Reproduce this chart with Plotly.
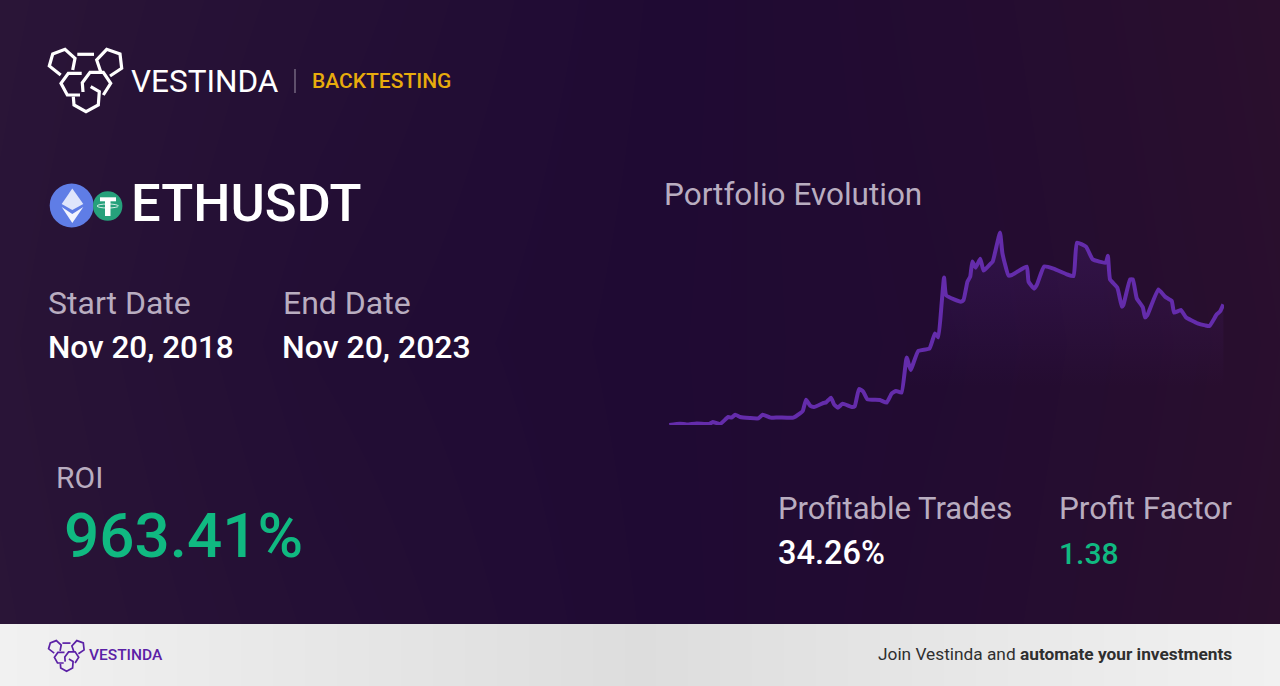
import pandas as pd
import plotly.graph_objects as go

# portfolio evolution: days since start, ROI in %
days = [1, 36, 58, 91, 133, 144, 168, 195, 206, 218, 234, 266, 294, 308, 334, 360, 409, 431, 440, 451,
        464, 477, 508, 517, 533, 543, 556, 571, 601, 611, 625, 639, 653, 694, 716, 733, 747, 765, 782, 795,
        820, 857, 875, 886, 897, 905, 912, 960, 969, 982, 991, 998, 1009, 1024, 1035, 1056, 1065, 1089, 1097, 1117,
        1128, 1177, 1183, 1201, 1210, 1234, 1265, 1309, 1331, 1342, 1372, 1394, 1437, 1444, 1451, 1475, 1490, 1495, 1517, 1526,
        1539, 1559, 1566, 1574, 1610, 1632, 1654, 1662, 1684, 1701, 1739, 1764, 1778, 1802, 1813, 1824]
roi = [0, 11, 5, 13, 8, 24, 8, 64, 59, 83, 64, 56, 53, 83, 59, 61, 59, 93, 112, 203,
       155, 144, 176, 181, 219, 165, 139, 171, 144, 149, 288, 267, 205, 200, 179, 253, 272, 259, 541, 440,
       592, 613, 733, 701, 973, 1181, 1037, 987, 1000, 1147, 1187, 1309, 1259, 1331, 1235, 1285, 1307, 1541, 1373, 1195,
       1200, 1267, 1147, 1091, 1120, 1267, 1251, 1205, 1192, 1459, 1427, 1325, 1299, 1355, 1165, 1099, 947, 960, 1165, 1165,
       1013, 941, 861, 880, 1085, 1027, 992, 899, 920, 861, 813, 797, 792, 885, 909, 965]

start_date = pd.Timestamp("2018-11-20")
end_date = pd.Timestamp("2023-11-20")
dates = start_date + pd.to_timedelta(days, unit="D")

WHITE = "#ffffff"
MUTED = "#b9adc0"
GREEN = "#10b981"
FONT = "Roboto"

fig = go.Figure()

# page background, drawn on a hidden pixel axis
fig.add_trace(go.Heatmap(x=[0, 320, 640, 960, 1280], y=[0, 343, 686],
                         z=[[-1, -0.5, -0.05, 0.4, 1], [-0.9, -0.3, 0, 0.3, 0.9], [-1, -0.5, -0.05, 0.4, 1]],
                         zmin=-1, zmax=1, zsmooth="best", showscale=False, hoverinfo="skip",
                         colorscale=[[0, "#2a1537"], [0.5, "#1f0a33"], [1, "#2a0f2d"]]))
# footer band: y given as edges so it stops exactly at its top
fig.add_trace(go.Heatmap(x=[0, 640, 1280], y=[624, 655, 686], z=[[1, 0, 1], [1, 0, 1]],
                         zsmooth="best", showscale=False, hoverinfo="skip",
                         colorscale=[[0, "#dddddd"], [1, "#f1f1f1"]]))

fig.add_trace(go.Scatter(x=dates, y=roi, mode="lines", xaxis="x2", yaxis="y2", cliponaxis=False,
                         line=dict(color="#642cab", width=4, shape="spline", smoothing=0.4), fill="tozeroy",
                         fillgradient=dict(type="vertical",
                                           colorscale=[[0, "rgba(106,45,176,0)"], [0.2, "rgba(106,45,176,0)"],
                                                       [1, "rgba(106,45,176,0.2)"]]),
                         hoverinfo="skip"))


def poly(points, close=False):
    return "M" + "L".join(f"{x:.1f},{y:.1f}" for x, y in points) + ("Z" if close else "")


def add_logo(ox, oy, scale, color, width):
    strokes = [
        [(60.7, 75), (49.3, 66), (52.7, 54), (65, 49.3), (75, 58.3), (72.7, 70)],
        [(77.3, 54.3), (94, 54.3)],
        [(110, 76), (121.7, 68.3), (120, 54), (106.7, 49.3), (96.7, 60), (100.7, 71.7)],
        [(81.7, 73.3), (68.3, 73.3), (61, 83.3), (67.3, 95), (80, 95)],
        [(83, 92), (82.3, 82.7), (90, 72.3), (103.3, 72.3), (110.7, 83.3), (103.3, 95)],
        [(73.3, 96.7), (74, 105), (86, 111.7), (98.3, 105), (99.3, 91.7), (90.7, 86.7)],
    ]
    for s in strokes:
        pts = [(ox + (x - 48) * scale, oy + (y - 48) * scale) for x, y in s]
        fig.add_shape(type="path", path=poly(pts), xref="x", yref="y",
                      line=dict(color=color, width=width))


add_logo(48, 48, 1, WHITE, 3.2)
add_logo(48, 640, 0.49, "#5b21a6", 1.7)

# header separator
fig.add_shape(type="line", x0=295, x1=295, y0=69, y1=93, xref="x", yref="y", line=dict(color="#9a90a4", width=1))

# ethereum coin
fig.add_shape(type="circle", x0=49.7, x1=93.7, y0=183.5, y1=227.5, xref="x", yref="y",
              fillcolor="#5f7de6", line_width=0)
fig.add_shape(type="path", path=poly([(72.3, 188.5), (61.7, 204), (72.3, 210), (83.3, 204)], True),
              xref="x", yref="y", fillcolor="#dfe5fb", line_width=0)
fig.add_shape(type="path", path=poly([(61.7, 207), (72.3, 223), (83.3, 207), (72.3, 214)], True),
              xref="x", yref="y", fillcolor="#f2f4fd", line_width=0)

# tether coin
fig.add_shape(type="circle", x0=93, x1=122.4, y0=191.3, y1=220.7, xref="x", yref="y",
              fillcolor="#26a17b", line_width=0)
fig.add_shape(type="rect", x0=100, x1=116, y0=197.3, y1=201.3, xref="x", yref="y", fillcolor=WHITE, line_width=0)
fig.add_shape(type="rect", x0=105, x1=110.5, y0=201, y1=216, xref="x", yref="y", fillcolor=WHITE, line_width=0)
fig.add_shape(type="circle", x0=97, x1=118.4, y0=204, y1=208, xref="x", yref="y", line=dict(color=WHITE, width=0.8))


def label(x, y, text, size, color, weight=400, anchor="left"):
    # annotations sit about 1.5px inside their anchor
    x = x - 1.5 if anchor == "left" else x + 1.5
    fig.add_annotation(x=x, y=y, xref="x", yref="y", text=text, showarrow=False, xanchor=anchor, yanchor="middle",
                       borderpad=0, font=dict(family=FONT, size=size, color=color, weight=weight))


label(131.5, 81, "VESTINDA", 31.5, WHITE, 400)
label(312, 81, "BACKTESTING", 21, "#e8ac0c", 500)
label(131.5, 203, "ETHUSDT", 52.5, WHITE, 500)
label(48, 303, "Start Date", 32, MUTED)
label(283, 303, "End Date", 32, MUTED)
label(48, 347, "Nov 20, 2018", 31.5, WHITE, 500)
label(282.5, 347, "Nov 20, 2023", 32, WHITE, 500)
label(664, 194, "Portfolio Evolution", 31.5, MUTED)
label(56.5, 477, "ROI", 30, MUTED)
label(64, 535, "963.41%", 62, GREEN, 500)
label(778, 508, "Profitable Trades", 31, MUTED)
label(778, 553, "34.26%", 32.5, WHITE, 500)
label(1059.5, 508, "Profit Factor", 31.5, MUTED)
label(1059.5, 553, "1.38", 30, GREEN, 500)
label(89, 655, "VESTINDA", 15.5, "#5b21a6", 500)
label(1231.5, 654, "Join Vestinda and <b>automate your investments</b>", 17.3, "#2f2f2f", anchor="right")

fig.update_layout(
    width=1280, height=686, margin=dict(l=0, r=0, t=0, b=0), paper_bgcolor="#1f0a33", plot_bgcolor="rgba(0,0,0,0)",
    showlegend=False,
    xaxis=dict(range=[0, 1280], domain=[0, 1], visible=False, fixedrange=True),
    yaxis=dict(range=[686, 0], domain=[0, 1], visible=False, fixedrange=True),
    xaxis2=dict(range=[start_date, end_date], domain=[669 / 1280, 1224 / 1280], visible=False, anchor="y2"),
    yaxis2=dict(range=[0, 1600], domain=[261 / 686, 461 / 686], visible=False, anchor="x2"),
)

fig.write_html("out.html", config={"displayModeBar": False},
               post_script="document.body.style.margin='0';document.body.style.overflow='hidden';")
